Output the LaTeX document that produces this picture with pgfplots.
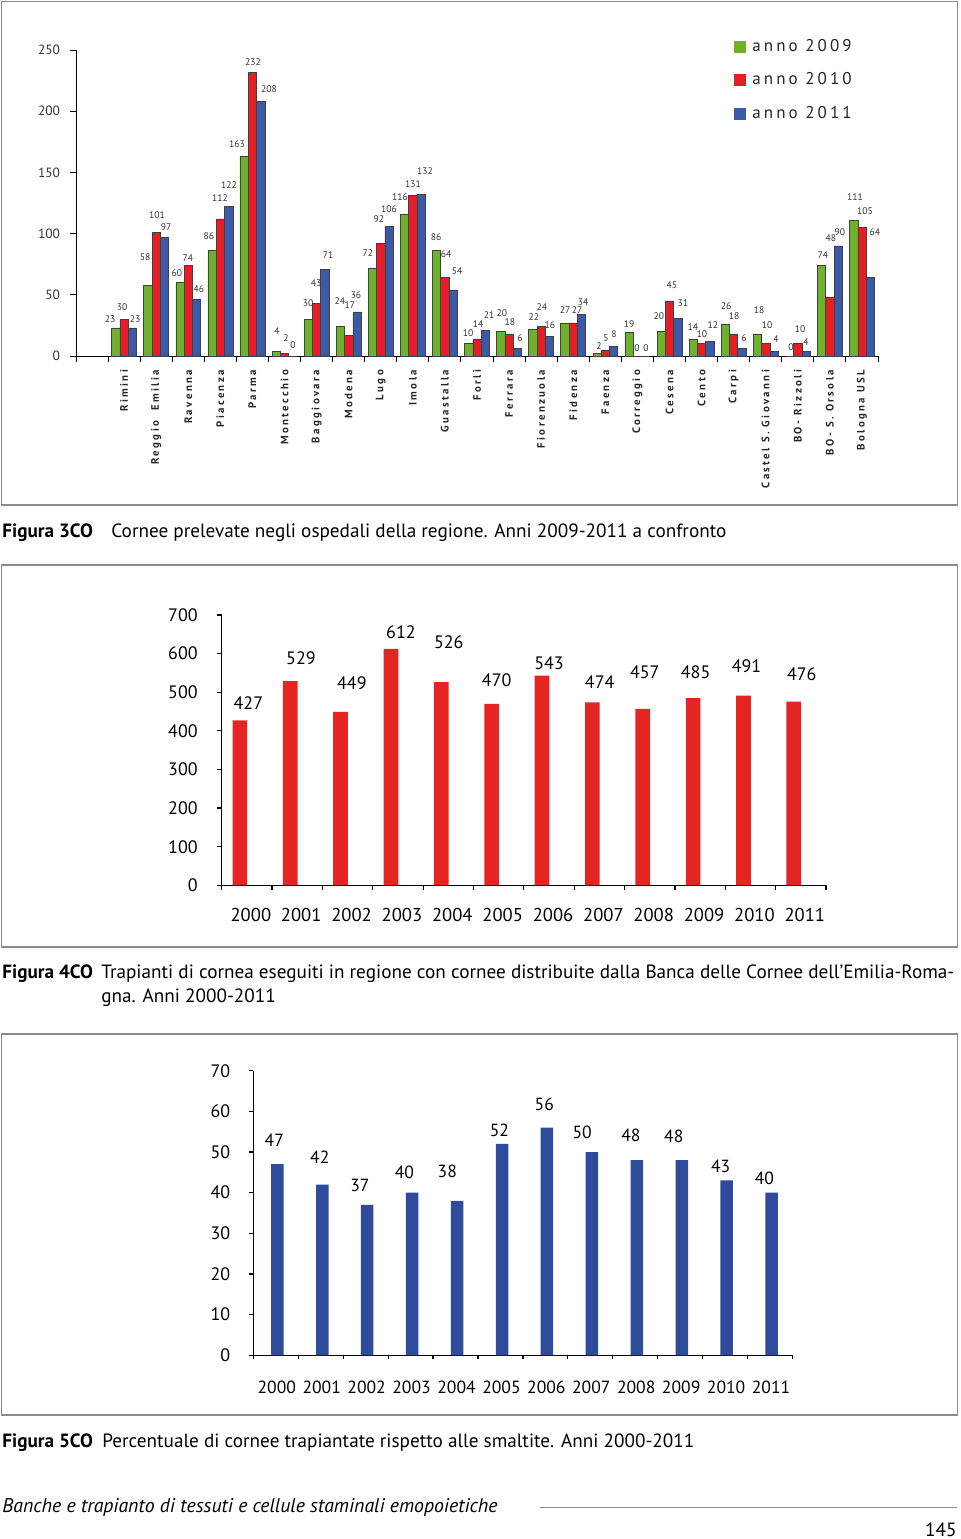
\documentclass[border=0pt]{standalone}
\usepackage{fontspec}
\setmainfont{PT Sans}
\usepackage{pgfplots}
\pgfplotsset{compat=1.18}
\usepackage{pgfplotstable}

\definecolor{gA}{HTML}{6EB22C}
\definecolor{rA}{HTML}{E31E24}
\definecolor{bA}{HTML}{3B59A6}
\definecolor{rB}{HTML}{E42521}
\definecolor{bB}{HTML}{2E4C9B}
\definecolor{frm}{HTML}{8C8C8C}

% chart 1: x = category slot, y = value, dx/dy = label offset (px)
\pgfplotstableread{
x y dx dy
1 23 -5.8 8.8
2 58 -2.9 28
3 60 -3 9.6
4 86 -3.1 14.7
5 163 -7.1 12.5
6 4 0.8 20
7 30 -0.3 16.3
8 24 -0.4 25.6
9 72 -4.5 14.9
10 116 -4.5 17
11 86 -0.6 13.7
12 10 -0.7 10.8
13 20 1.2 18.5
14 22 1.1 12.1
15 27 0.1 13
16 2 2 7.6
17 19 -0.1 8.7
18 20 -2.2 15.5
19 14 -0.3 11.9
20 26 0.7 18.2
21 18 1.6 24
22 0 1.5 9
23 74 1.4 10.4
24 111 1.3 23.1
}\tabG
\pgfplotstableread{
x y dx dy
1 30 -2.1 12.3
2 101 0.8 17.4
3 74 -0.3 7.4
4 112 -0.4 20.9
5 232 0.6 10
6 2 1.5 15.6
7 43 -0.6 20.4
8 17 1.3 30.2
9 92 -1.8 24.4
10 131 0.2 11.7
11 64 1.1 23.7
12 14 1 14.9
13 18 0.9 12
14 24 0.8 19.6
15 27 3.8 13
16 5 0.7 11.9
17 0 -0.4 8
18 45 2.5 15.9
19 10 0.4 9.8
20 18 0.4 18
21 10 1.3 18.8
22 10 2.2 14.8
23 48 1.1 59.2
24 105 3 16.5
}\tabR
\pgfplotstableread{
x y dx dy
1 23 2.6 8.8
2 97 1.5 10.3
3 46 2.4 10.7
4 122 0.3 21.7
5 208 8.3 12.4
6 0 0.2 11
7 71 3.1 14.1
8 36 -1 16.9
9 106 -0.1 17.3
10 132 3.9 23.4
11 54 3.8 18.9
12 21 3.7 15.3
13 6 2.6 10.7
14 16 0.5 11.4
15 34 1.5 12.4
16 8 0.4 12.2
17 0 0.3 8
18 31 5.2 15.1
19 12 3.1 16.3
20 6 2.1 10.7
21 4 2 12.1
22 4 -0.1 9.1
23 90 1.8 13.8
24 64 4.7 45.7
}\tabB
% chart 2
\pgfplotstableread{
x y dx dy
0 427 1.5 17.4
1 529 3.7 23.1
2 449 4.3 29
3 612 3 17
4 526 0.5 40.2
5 470 -2 23.8
6 543 0 12.6
7 474 0.3 20.3
8 457 -5 36.9
9 485 -4.5 26
10 491 -4 29.7
11 476 1 27.5
}\tabT
% chart 3
\pgfplotstableread{
x y dx dy
0 47 -1.5 24
1 42 -0.9 27.8
2 37 -5.7 19.9
3 40 -6.1 20
4 38 -8.2 29
5 52 -1 14
6 56 -1.1 23.6
7 50 -8.2 20
8 48 -4.3 25
9 48 -6.4 24
10 43 -4.5 14.5
11 40 -5.6 14.7
}\tabP

\begin{document}
\begin{tikzpicture}
\fill[white] (0,0) rectangle (480pt,-769.5pt);
\useasboundingbox (0,0) rectangle (480pt,-769.5pt);
\begin{scope}[x=0.5pt,y=-0.5pt]
  \draw[frm, line width=0.6pt] (1.5,1.5) rectangle (957.5,505);
  \draw[frm, line width=0.6pt] (1.5,565) rectangle (957.5,947);
  \draw[frm, line width=0.6pt] (1.5,1034) rectangle (957.5,1415);
  \begin{scope}[every node/.style={inner sep=0pt, anchor=base west, font=\fontsize{9.6}{11}\selectfont}]
    \node at (2,537) {\textbf{Figura 3CO}};
    \node at (111,537) {Cornee prelevate negli ospedali della regione. Anni 2009-2011 a confronto};
    \node at (2,978) {\textbf{Figura 4CO}};
    \node at (101,978) {Trapianti di cornea eseguiti in regione con cornee distribuite dalla Banca delle Cornee dell’Emilia-Roma-};
    \node at (101,1002) {gna. Anni 2000-2011};
    \node at (2,1447) {\textbf{Figura 5CO}};
    \node at (102,1447) {Percentuale di cornee trapiantate rispetto alle smaltite. Anni 2000-2011};
    \node[font=\fontsize{9.9}{11}\selectfont] at (2,1512) {\itshape Banche e trapianto di tessuti e cellule staminali emopoietiche};
    \node[anchor=base east] at (957,1536) {145};
  \end{scope}
  \draw[frm, line width=0.5pt] (540,1507) -- (957,1507);
\end{scope}

% ---------------- chart 1 ----------------
\begin{axis}[
  at={(38pt,-178pt)}, anchor=south west, scale only axis,
  width=401pt, height=153pt,
  xmin=-0.5, xmax=24.5, ymin=0, ymax=250,
  axis lines=left, axis line style={-, black, line width=0.5pt},
  clip=false,
  ybar=0pt, bar width=4.15pt,
  xtick={-0.5,0.5,...,24.5}, xticklabel=\empty,
  ytick={0,50,...,250},
  tick align=outside, major tick length=3pt, tick style={black, line width=0.5pt},
  yticklabel style={font=\fontsize{6.7}{7}\selectfont, text=black!80, xshift=-1.5pt},
  /pgf/number format/assume math mode=true,
  extra x ticks={1,2,...,24},
  extra x tick labels={Rimini, Reggio\ \ Emilia, Ravenna, Piacenza, Parma, Montecchio, Baggiovara, Modena, Lugo, Imola, Guastalla, Forlì, Ferrara, Fiorenzuola, Fidenza, Faenza, Correggio, Cesena, Cento, Carpi, Castel S. Giovanni, BO- Rizzoli, BO- S. Orsola, Bologna USL},
  extra x tick style={major tick length=0pt, tick label style={font=\fontsize{5.4}{6}\selectfont\bfseries\addfontfeature{LetterSpace=22}, text=black!85, yshift=-3.5pt, rotate=90, anchor=east}},
  nodes near coords,
  visualization depends on={\thisrow{dx} \as \dx},
  visualization depends on={\thisrow{dy} \as \dy},
  every node near coord/.append style={anchor=center, xshift={0.5pt*\dx}, yshift={0.5pt*\dy}, font=\fontsize{4.8}{5}\selectfont, text=black!80, inner sep=0pt},
  legend style={at={(0.8205,1.047)}, anchor=north west, draw=none, fill=none, font=\fontsize{8.5}{9}\selectfont\addfontfeature{LetterSpace=18}, text=black!85, row sep=6.3pt, inner sep=0pt, nodes={inner sep=1.5pt}},
  legend cell align=left,
  legend image code/.code={\path[#1,draw=none] (0pt,-3pt) rectangle (6pt,3pt);},
]
\addplot[fill=gA, draw=black!75, line width=0.3pt] table[x=x,y=y] {\tabG};
\addlegendentry{\hspace{1.5pt}anno 2009}
\addplot[fill=rA, draw=black!75, line width=0.3pt] table[x=x,y=y] {\tabR};
\addlegendentry{\hspace{1.5pt}anno 2010}
\addplot[fill=bA, draw=black!75, line width=0.3pt] table[x=x,y=y] {\tabB};
\addlegendentry{\hspace{1.5pt}anno 2011}
\end{axis}

% ---------------- chart 2 ----------------
\begin{axis}[
  at={(110.85pt,-442.65pt)}, anchor=south west, scale only axis,
  width=302.15pt, height=135.15pt,
  xmin=-0.5, xmax=11.5, ymin=0, ymax=700,
  axis lines=left, axis line style={-, black, line width=0.7pt},
  clip=false,
  xtick={-0.5,0.5,...,11.5}, xticklabel=\empty,
  ytick={0,100,...,700},
  tick align=outside, major tick length=2.5pt, tick style={black, line width=0.6pt},
  yticklabel style={font=\fontsize{9}{10}\selectfont, xshift=-6pt},
  /pgf/number format/assume math mode=true,
  extra x ticks={0,1,...,11},
  extra x tick labels={2000,2001,2002,2003,2004,2005,2006,2007,2008,2009,2010,2011},
  extra x tick style={major tick length=0pt, tick label style={font=\fontsize{9.3}{10}\selectfont, xshift=2pt, yshift=-8pt}},
  visualization depends on={\thisrow{dx} \as \dx},
  visualization depends on={\thisrow{dy} \as \dy},
  every node near coord/.append style={anchor=center, xshift={0.5pt*\dx}, yshift={0.5pt*\dy}, font=\fontsize{9}{10}\selectfont, inner sep=0pt},
]
\addplot[ybar, bar width=7.35pt, bar shift=-3.5pt, fill=rB, draw=none, nodes near coords] table[x=x,y=y] {\tabT};
\end{axis}

% ---------------- chart 3 ----------------
\begin{axis}[
  at={(126.65pt,-677.65pt)}, anchor=south west, scale only axis,
  width=269.6pt, height=142.3pt,
  xmin=-0.5, xmax=11.5, ymin=0, ymax=70,
  axis lines=left, axis line style={-, black, line width=0.7pt},
  clip=false,
  xtick={-0.5,0.5,...,11.5}, xticklabel=\empty,
  ytick={0,10,...,70},
  tick align=outside, major tick length=2pt, tick style={black, line width=0.6pt},
  yticklabel style={font=\fontsize{9}{10}\selectfont, xshift=-6pt},
  /pgf/number format/assume math mode=true,
  extra x ticks={0,1,...,11},
  extra x tick labels={2000,2001,2002,2003,2004,2005,2006,2007,2008,2009,2010,2011},
  extra x tick style={major tick length=0pt, tick label style={font=\fontsize{8.8}{10}\selectfont, xshift=0.5pt, yshift=-9.5pt}},
  visualization depends on={\thisrow{dx} \as \dx},
  visualization depends on={\thisrow{dy} \as \dy},
  every node near coord/.append style={anchor=center, xshift={0.5pt*\dx}, yshift={0.5pt*\dy}, font=\fontsize{8.8}{10}\selectfont, inner sep=0pt},
]
\addplot[ybar, bar width=6.25pt, bar shift=0.8pt, fill=bB, draw=none, nodes near coords] table[x=x,y=y] {\tabP};
\end{axis}
\end{tikzpicture}
\end{document}
